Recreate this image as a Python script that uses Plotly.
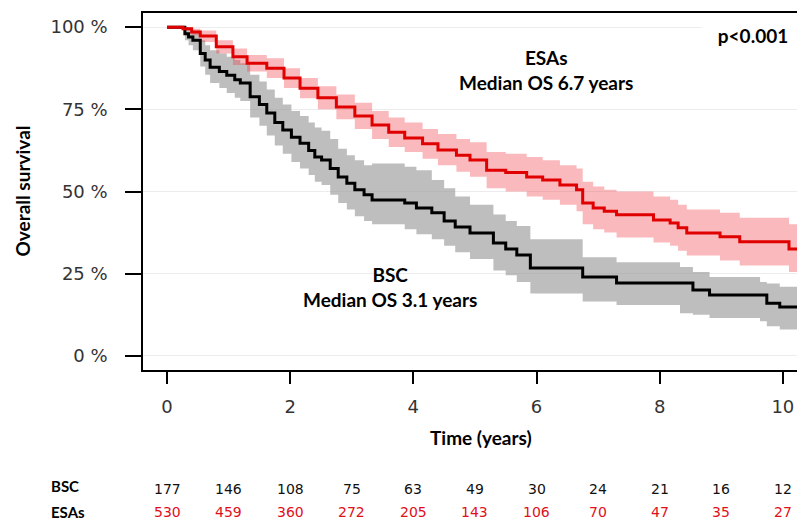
import plotly.graph_objects as go

# ---- data ----
esa_t = [0, 0.26, 0.4, 0.54, 0.8, 1.07, 1.3, 1.62, 1.9, 2.16, 2.45, 2.75, 3.05, 3.33, 3.6, 3.86,
         4.15, 4.4, 4.7, 4.92, 5.19, 5.5, 5.84, 6.1, 6.38, 6.65, 6.75, 6.92, 7.1, 7.3, 7.9, 8.17,
         8.3, 8.44, 8.98, 9.3, 10.1, 10.25]
esa_s = [100, 99.5, 98.5, 97.3, 94, 91, 89, 87.5, 84.5, 81.4, 78.5, 75.7, 73, 70.2, 68, 66.3,
         64.5, 62.6, 61, 59.6, 56.5, 55.8, 54.4, 53.5, 52, 50.5, 46.5, 45, 44, 42.9, 41.3, 40.4,
         39, 37.4, 36.2, 34.7, 32.5, 32.5]
esa_lo = [100, 99, 97.5, 95.5, 92, 88.5, 86.5, 84.5, 81.5, 78.4, 75, 72, 69, 66, 63.5, 62,
          60, 58, 56, 54.5, 51, 50, 48.5, 47.5, 46, 44, 40, 38.5, 37.5, 36, 34.5, 33.5,
          32, 30.5, 29, 27.5, 25.5, 25.5]
esa_hi = [100, 100, 99.5, 99, 96, 93.5, 91.5, 90.5, 87.5, 84.5, 82, 79.5, 77, 74.5, 72.5, 71,
          69, 67.5, 66, 65, 62, 61.5, 60.5, 59.5, 58, 57, 53, 51.5, 50.5, 50, 48.5, 47.5,
          46, 44.5, 43.5, 42, 40, 40]

bsc_t = [0, 0.29, 0.35, 0.42, 0.54, 0.62, 0.70, 0.85, 0.97, 1.1, 1.19, 1.35, 1.5, 1.62, 1.75,
         1.88, 2.02, 2.16, 2.3, 2.4, 2.51, 2.65, 2.78, 2.92, 3.05, 3.2, 3.33, 3.86, 4.05, 4.3,
         4.5, 4.68, 4.92, 5.3, 5.5, 5.68, 5.9, 6.75, 7.3, 8.33, 8.54, 8.81, 9.63, 9.74, 9.95, 10.25]
bsc_s = [100, 98, 97, 96, 92, 90, 87.8, 86.5, 85.4, 84, 83, 78.8, 76.5, 73.9, 71,
         68.7, 66.5, 64.7, 62.5, 60.5, 59.6, 57, 54.4, 52.5, 50.5, 49, 47.4, 46.5, 45, 43.5,
         41, 39.2, 37.4, 34.3, 32.5, 30.7, 26.7, 24, 22.2, 22.2, 20, 18.5, 18.5, 16, 14.9, 14.9]
bsc_lo = [100, 96, 94.5, 93, 88, 85.5, 83, 81.5, 80, 78.5, 77.5, 72.5, 70, 67, 64,
          61.5, 59, 57, 55, 53, 52, 49, 46.5, 44.5, 42.5, 41, 40, 38.5, 37, 35.5,
          33.5, 31.5, 29.5, 26, 24.5, 22.5, 19, 16.5, 15.5, 13, 12.5, 11.5, 10.5, 9, 8, 8]
bsc_hi = [100, 100, 99.5, 99, 96, 94.5, 93, 92, 91, 90, 89, 85.5, 83.5, 81, 78.5,
          76.5, 74.5, 73, 71, 69.5, 68.5, 66, 63, 61, 59.5, 58, 58.5, 57.5, 56.5, 53.5,
          51, 48.5, 46, 43, 41, 39.5, 35.5, 30, 28.5, 27, 25.5, 24, 22.5, 22, 21, 21]

risk_years = [0, 1, 2, 3, 4, 5, 6, 7, 8, 9, 10]
risk_bsc = [177, 146, 108, 75, 63, 49, 30, 24, 21, 16, 12]
risk_esa = [530, 459, 360, 272, 205, 143, 106, 70, 47, 35, 27]

x_ticks = [0, 2, 4, 6, 8, 10]
y_ticks = [0, 25, 50, 75, 100]
y_tick_text = ["0 %", "25 %", "50 %", "75 %", "100 %"]

RED = "#e00000"
PINK = "rgba(240,60,70,0.36)"
GREY = "rgba(150,150,150,0.62)"

fig = go.Figure()

# confidence bands
fig.add_trace(go.Scatter(x=bsc_t, y=bsc_hi, mode="lines", line=dict(width=0, shape="hv"),
                         hoverinfo="skip", showlegend=False))
fig.add_trace(go.Scatter(x=bsc_t, y=bsc_lo, mode="lines", line=dict(width=0, shape="hv"),
                         fill="tonexty", fillcolor=GREY, hoverinfo="skip", showlegend=False))
fig.add_trace(go.Scatter(x=esa_t, y=esa_hi, mode="lines", line=dict(width=0, shape="hv"),
                         hoverinfo="skip", showlegend=False))
fig.add_trace(go.Scatter(x=esa_t, y=esa_lo, mode="lines", line=dict(width=0, shape="hv"),
                         fill="tonexty", fillcolor=PINK, hoverinfo="skip", showlegend=False))
# survival curves
fig.add_trace(go.Scatter(x=bsc_t, y=bsc_s, mode="lines", name="BSC",
                         line=dict(color="black", width=3, shape="hv"), showlegend=False))
fig.add_trace(go.Scatter(x=esa_t, y=esa_s, mode="lines", name="ESAs",
                         line=dict(color=RED, width=3, shape="hv"), showlegend=False))

TXT = "Lato"
ann = []
ann.append(dict(x=6.16, y=87, xref="x", yref="y", text="ESAs<br>Median OS 6.7 years",
                showarrow=False, font=dict(family=TXT, size=19, color="black", weight="bold"),
                align="center", yanchor="middle"))
ann.append(dict(x=3.62, y=21, xref="x", yref="y", text="BSC<br>Median OS 3.1 years",
                showarrow=False, font=dict(family=TXT, size=19, color="black", weight="bold"),
                align="center", yanchor="middle"))
ann.append(dict(x=9.52, y=97.5, xref="x", yref="y", text="p<0.001",
                showarrow=False, font=dict(family=TXT, size=19, color="black", weight="bold"),
                bgcolor="white", width=100, align="center"))
# axis titles
ann.append(dict(x=5.1, y=-0.19, xref="x", yref="paper", text="Time (years)",
                showarrow=False, font=dict(family=TXT, size=19, color="black", weight="bold"),
                yanchor="middle"))
ann.append(dict(x=-0.185, y=0.5, xref="paper", yref="paper", text="Overall survival",
                textangle=-90, showarrow=False,
                font=dict(family=TXT, size=19, color="black", weight="bold"),
                xanchor="center", yanchor="middle"))
# risk table
ann.append(dict(x=-0.143, y=-0.325, xref="paper", yref="paper", text="BSC", showarrow=False,
                font=dict(family=TXT, size=15, color="black", weight="bold"), yanchor="middle"))
ann.append(dict(x=-0.143, y=-0.398, xref="paper", yref="paper", text="ESAs", showarrow=False,
                font=dict(family=TXT, size=15, color="black", weight="bold"), yanchor="middle"))
for yr, nb, ne in zip(risk_years, risk_bsc, risk_esa):
    ann.append(dict(x=yr, y=-0.334, xref="x", yref="paper", text=str(nb), showarrow=False,
                    font=dict(family="DejaVu Sans", size=14, color="#111"), yanchor="middle"))
    ann.append(dict(x=yr, y=-0.398, xref="x", yref="paper", text=str(ne), showarrow=False,
                    font=dict(family="DejaVu Sans", size=14, color="#e0101a"), yanchor="middle"))

fig.update_layout(
    width=797, height=523,
    margin=dict(l=143, r=0, t=13, b=153),
    paper_bgcolor="white", plot_bgcolor="white",
    annotations=ann,
    xaxis=dict(range=[-0.39, 10.23], tickvals=x_ticks, ticks="outside", ticklen=12,
               tickwidth=1.5, tickcolor="black", showline=True, linecolor="black",
               linewidth=1.5, mirror=True, showgrid=False, zeroline=False,
               tickfont=dict(family="DejaVu Sans", size=18, color="#333"),
               ticklabelstandoff=8),
    yaxis=dict(range=[-4.3, 104.3], tickvals=y_ticks, ticktext=y_tick_text, ticks="outside",
               ticklen=16, tickwidth=1.5, tickcolor="black", showline=True, linecolor="black",
               linewidth=1.5, mirror=False, showgrid=True, gridcolor="#ececec", gridwidth=1,
               zeroline=False, tickfont=dict(family="DejaVu Sans", size=18, color="#333"),
               ticklabelstandoff=14),
)

fig.write_html("out.html")
